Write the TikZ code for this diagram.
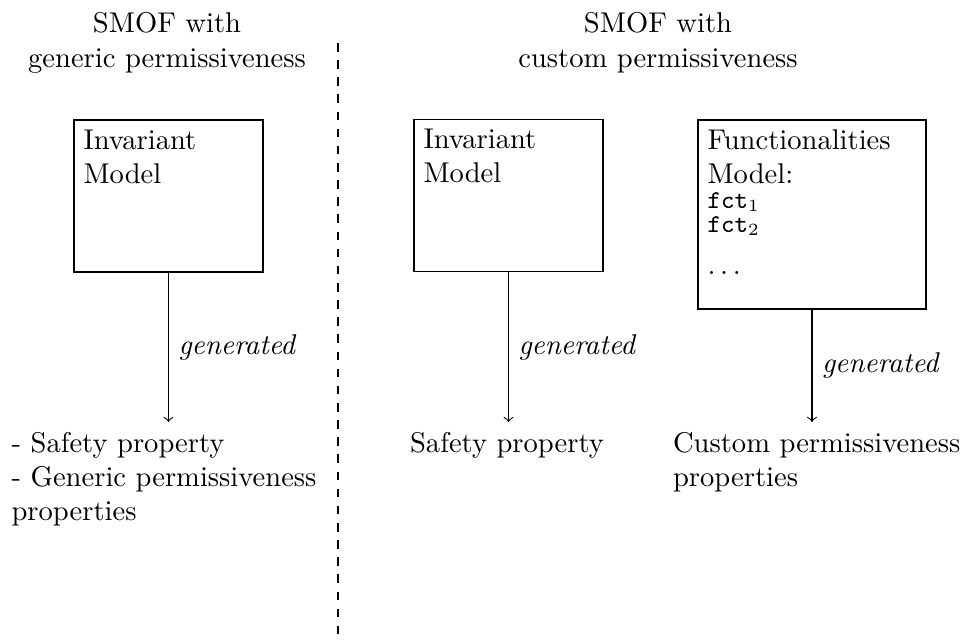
\documentclass[tikz,border=0pt]{standalone}
\begin{document}
\begin{tikzpicture}[x=0.35pt,y=-0.35pt,
  box/.style={draw, rectangle, inner sep=0pt},
  boxtext/.style={anchor=north west, align=left},
  head/.style={anchor=north, align=center},
  result/.style={anchor=north west, align=left},
  gen/.style={midway, right, font=\itshape}]
\useasboundingbox (0,0) rectangle (960,639);
% headings
\node[head] (h1) at (167,2.7) {SMOF with\\generic permissiveness};
\node[head] (h2) at (658,2.7) {SMOF with\\custom permissiveness};
% separator
\coordinate (sepTop) at (338,43);
\coordinate (sepBot) at (338,639);
\draw[dashed] (sepTop) -- (sepBot);
% boxes
\node[box, minimum width=66.15pt, minimum height=53.2pt] (b1) at (168.5,196) {};
\node[box, minimum width=66.15pt, minimum height=53.2pt] (b2) at (508.5,195.5) {};
\node[box, minimum width=79.8pt, minimum height=66.15pt] (b3) at (812,214.5) {};
\node[boxtext] (t1) at (b1.north west) {Invariant\\Model};
\node[boxtext] (t2) at (b2.north west) {Invariant\\Model};
\node[boxtext] (t3) at (b3.north west) {Functionalities\\Model:\\[-3.3pt]
  {\small\texttt{fct}$_1$}\\[-3.6pt]
  {\small\texttt{fct}$_2$}\\[2.6pt]
  $\ldots$};
% results
\node[result] (o1) at (1.5,422) {- Safety property\\- Generic permissiveness\\properties};
\node[result] (o2) at (400,422) {Safety property};
\node[result] (o3) at (663,422) {Custom permissiveness\\properties};
% arrows
\draw[->] (b1.south) -- (b1.south |- o1.north) node[gen] {generated};
\draw[->] (b2.south) -- (b2.south |- o2.north) node[gen] {generated};
\draw[->] (b3.south) -- (b3.south |- o3.north) node[gen] {generated};
\end{tikzpicture}
\end{document}
